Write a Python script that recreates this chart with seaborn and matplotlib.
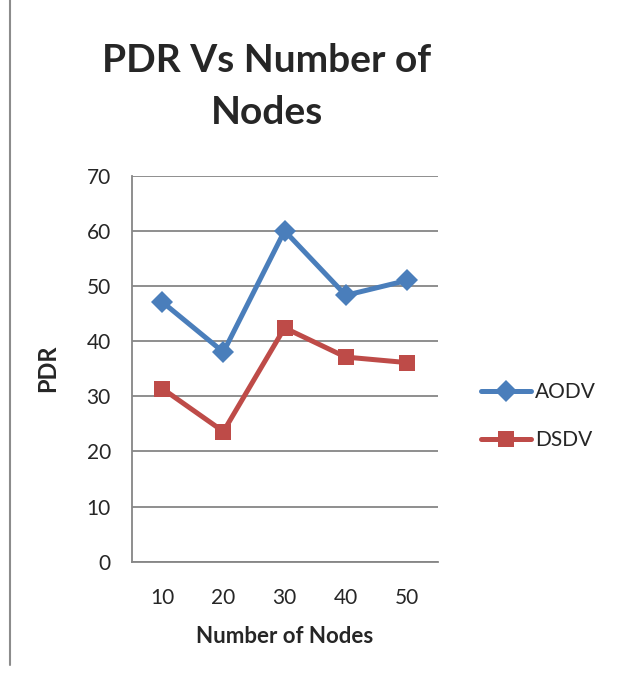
import numpy as np
import pandas as pd
import matplotlib
matplotlib.use("Agg")
import matplotlib.pyplot as plt
import seaborn as sns
from matplotlib.lines import Line2D

# data
nodes = [10, 20, 30, 40, 50]
aodv = [47.1, 38.0, 60.0, 48.3, 51.0]
dsdv = [31.4, 23.6, 42.4, 37.1, 36.1]
series = ["AODV", "DSDV"]
colors = {"AODV": "#4A7EBB", "DSDV": "#BE4B48"}
markers = {"AODV": "D", "DSDV": "s"}


def main():
    sns.set_theme(style="white")
    plt.rcParams["font.family"] = ["Lato", "DejaVu Sans"]

    pos = np.arange(len(nodes)) + 0.5
    df = pd.DataFrame({
        "pos": np.concatenate([pos, pos]),
        "PDR": aodv + dsdv,
        "Protocol": [series[0]] * len(nodes) + [series[1]] * len(nodes),
    })

    fig = plt.figure(figsize=(6.18, 6.79), dpi=100)
    ax = fig.add_axes([0.213, 0.1728, 0.495, 0.5685])

    for name in series:
        sub = df[df["Protocol"] == name]
        sns.lineplot(data=sub, x="pos", y="PDR", ax=ax, color=colors[name],
                     marker=markers[name], markersize=12 if name == "DSDV" else 11,
                     markeredgewidth=0, linewidth=3.6, label=name, legend=False)

    ax.set_xlim(0, len(nodes))
    ax.set_ylim(0, 70)
    ax.set_yticks(range(0, 71, 10))
    ax.set_xticks(range(0, len(nodes) + 1))
    ax.set_xticklabels([])
    ax.set_xticks(pos, minor=True)
    ax.set_xticklabels([str(n) for n in nodes], minor=True)
    ax.tick_params(axis="x", which="minor", length=0, labelsize=15, pad=19)
    ax.tick_params(axis="x", which="major", length=6, width=1.3, color="#868686", direction="out")
    ax.tick_params(axis="y", length=6, width=1.3, color="#868686", direction="out",
                   labelsize=15, pad=9)
    ax.grid(axis="y", color="#868686", linewidth=1.3)
    ax.set_axisbelow(True)
    for s in ["top", "right"]:
        ax.spines[s].set_visible(False)
    for s in ["left", "bottom"]:
        ax.spines[s].set_color("#868686")
        ax.spines[s].set_linewidth(1.3)

    ax.set_xlabel("Number of Nodes", fontsize=16, fontweight="bold", labelpad=13)
    ax.set_ylabel("PDR", fontsize=17, fontweight="bold", labelpad=20)

    fig.text(267 / 618, 1 - 60 / 679, "PDR Vs Number of", ha="center", va="center",
             fontsize=28, fontweight="bold")
    fig.text(267 / 618, 1 - 112 / 679, "Nodes", ha="center", va="center",
             fontsize=28, fontweight="bold")

    handles = [Line2D([], [], color=colors[n], marker=markers[n], linewidth=3.6,
                      markersize=11, markeredgewidth=0) for n in series]
    fig.legend(handles, series, loc="center left", bbox_to_anchor=(462 / 618, 1 - 416 / 679),
               frameon=False, fontsize=15, handlelength=2.4, handletextpad=0.2,
               labelspacing=1.35)

    # left border line of the original frame
    fig.add_artist(Line2D([10 / 618, 10 / 618], [1 - 665 / 679, 1], color="#8c8c8c",
                          linewidth=1.5, transform=fig.transFigure))

    plt.savefig("out.png", dpi=100)


if __name__ == "__main__":
    main()
